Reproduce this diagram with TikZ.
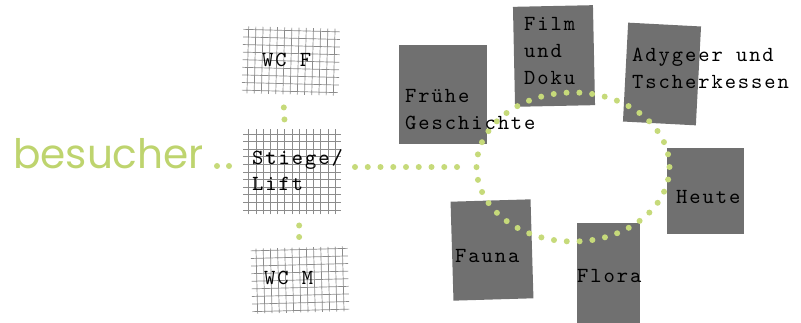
\documentclass[tikz,border=0pt]{standalone}
\usepackage{fontspec}
\newfontfamily\besfont{Poppins}
\newfontfamily\labtt{lmmono10-regular}[Extension=.otf, LetterSpace=9]
\newcommand\labfont{\labtt\fontsize{21.5}{27}\selectfont}
\definecolor{boxgray}{RGB}{112,112,112}
\definecolor{leaf}{RGB}{198,218,122}
\definecolor{besgreen}{RGB}{190,212,110}
\usetikzlibrary{shapes.geometric}

\begin{document}
\begin{tikzpicture}[x=1pt, y=-1pt,
  dotline/.style={draw=leaf, line width=6pt, line cap=round, dash pattern=on 0pt off 12.75pt},
  room/.style={fill=boxgray, inner sep=0pt, outer sep=0pt},
  gridroom/.style={inner sep=0pt, outer sep=0pt, path picture={
    \draw[black!45, line width=0.7pt, xstep=7.2pt, ystep=7.6pt]
      (path picture bounding box.south west) grid (path picture bounding box.north east);}},
  lbl/.style={font=\labfont, anchor=base west, inner sep=0pt, align=left}]
  \useasboundingbox (0,0) rectangle (801,323);
  % exhibition rooms
  \node[room, minimum width=88, minimum height=99] (fruehe) at (443,95) {};
  \node[room, rotate=1.2, minimum width=80, minimum height=100] (film) at (554,56) {};
  \node[room, rotate=-3, minimum width=73, minimum height=99] (adyg) at (662,74) {};
  \node[room, minimum width=77, minimum height=86] (heute) at (705,191) {};
  \node[room, rotate=1.7, minimum width=80, minimum height=99] (fauna) at (492,250) {};
  \node[room, minimum width=63, minimum height=100] (flora) at (608,273) {};
  \node[ellipse, dotline, dash pattern=on 0pt off 12.85pt, minimum width=193, minimum height=149,
    inner sep=0pt, outer sep=0pt] (ring) at (573,167) {};
  % entrance side
  \node[gridroom, rotate=-1.5, minimum width=97, minimum height=67] (wcf) at (291,61) {};
  \node[gridroom, minimum width=98, minimum height=85] (stiege) at (292,172) {};
  \node[gridroom, rotate=1.5, minimum width=97, minimum height=65] (wcm) at (300,280) {};
  \node[font=\besfont\fontsize{40.6}{41}\selectfont, text=besgreen, anchor=mid west, inner sep=0pt]
    (besucher) at (13,166) {besucher};
  \draw[dotline, dash pattern=on 0pt off 12pt, shorten >=13pt]
    ([xshift=-26pt]besucher.mid east -| stiege.west) -- (besucher.mid east -| stiege.west);
  \draw[dotline, dash pattern=on 0pt off 12pt, shorten <=13pt, shorten >=9pt]
    ([xshift=-7pt]wcf.south) -- ([xshift=-7pt]stiege.north);
  \draw[dotline, dash pattern=on 0pt off 11.5pt, shorten <=11pt, shorten >=9.5pt]
    (wcm.north |- stiege.south) -- (wcm.north);
  \draw[dotline, shorten <=14pt, shorten >=17pt] (ring.west -| stiege.east) -- (ring.west);
  % labels
  \node[lbl] (fruehetxt) at (405,130) {Frühe\\Geschichte};
  \node[lbl] (filmtxt) at (524,85) {Film\\und\\Doku};
  \node[lbl] (adygtxt) at (632,89) {Adygeer und\\Tscherkessen};
  \node[lbl] (heutetxt) at (676,204) {Heute};
  \node[lbl] (faunatxt) at (455,262) {Fauna};
  \node[lbl] (floratxt) at (577,283) {Flora};
  \node[lbl] (wcftxt) at (262,67) {WC F};
  \node[lbl, font=\labtt\fontsize{21.5}{26}\selectfont] (stiegetxt) at (252,191) {Stiege/\\Lift};
  \node[lbl] (wcmtxt) at (264,285) {WC M};
\end{tikzpicture}
\end{document}
